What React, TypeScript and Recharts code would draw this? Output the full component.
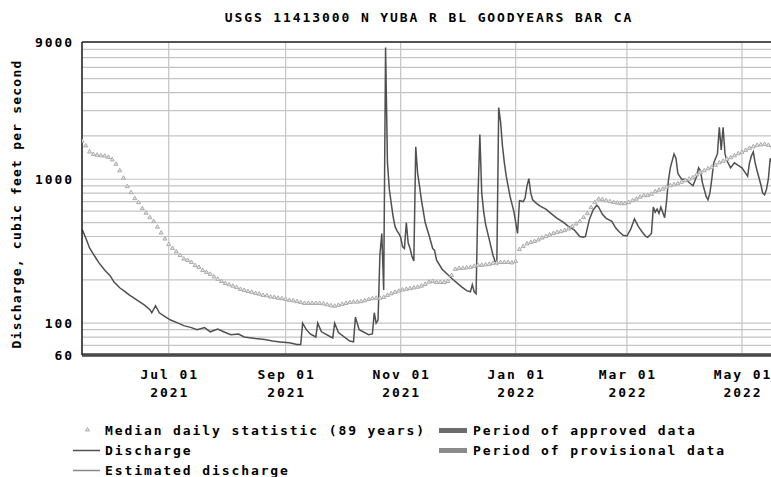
import {
  CartesianGrid,
  ComposedChart,
  Line,
  ReferenceLine,
  Scatter,
  XAxis,
  YAxis,
} from 'recharts'

// daily discharge, cfs
const dischargeDates = [
  '2021-05-16', '2021-05-18', '2021-05-20', '2021-05-23', '2021-05-25', '2021-05-28', '2021-05-31',
  '2021-06-02', '2021-06-05', '2021-06-08', '2021-06-10', '2021-06-14', '2021-06-18', '2021-06-21',
  '2021-06-22', '2021-06-24', '2021-06-26', '2021-06-29', '2021-07-02', '2021-07-06', '2021-07-09',
  '2021-07-13', '2021-07-16', '2021-07-20', '2021-07-23', '2021-07-27', '2021-07-31', '2021-08-03',
  '2021-08-07', '2021-08-10', '2021-08-16', '2021-08-21', '2021-08-25', '2021-08-29', '2021-09-03',
  '2021-09-07', '2021-09-09', '2021-09-10', '2021-09-12', '2021-09-14', '2021-09-17', '2021-09-18',
  '2021-09-20', '2021-09-25', '2021-09-26', '2021-09-27', '2021-09-29', '2021-10-05', '2021-10-07',
  '2021-10-08', '2021-10-10', '2021-10-15', '2021-10-17', '2021-10-18', '2021-10-19', '2021-10-20',
  '2021-10-21', '2021-10-22', '2021-10-23', '2021-10-24', '2021-10-25', '2021-10-26', '2021-10-27',
  '2021-10-28', '2021-10-29', '2021-10-30', '2021-10-31', '2021-11-01', '2021-11-02', '2021-11-03',
  '2021-11-04', '2021-11-05', '2021-11-06', '2021-11-07', '2021-11-08', '2021-11-09', '2021-11-10',
  '2021-11-11', '2021-11-12', '2021-11-13', '2021-11-14', '2021-11-16', '2021-11-18', '2021-11-19',
  '2021-11-20', '2021-11-23', '2021-11-28', '2021-12-03', '2021-12-06', '2021-12-08', '2021-12-09',
  '2021-12-10', '2021-12-11', '2021-12-12', '2021-12-13', '2021-12-14', '2021-12-15', '2021-12-16',
  '2021-12-18', '2021-12-20', '2021-12-21', '2021-12-22', '2021-12-23', '2021-12-24', '2021-12-25',
  '2021-12-26', '2021-12-27', '2021-12-29', '2021-12-31', '2022-01-02', '2022-01-03', '2022-01-05',
  '2022-01-06', '2022-01-07', '2022-01-08', '2022-01-09', '2022-01-10', '2022-01-12', '2022-01-14',
  '2022-01-17', '2022-01-20', '2022-01-23', '2022-01-26', '2022-01-29', '2022-02-01', '2022-02-02',
  '2022-02-04', '2022-02-06', '2022-02-07', '2022-02-09', '2022-02-11', '2022-02-13', '2022-02-14',
  '2022-02-16', '2022-02-18', '2022-02-21', '2022-02-23', '2022-02-25', '2022-02-27', '2022-03-01',
  '2022-03-03', '2022-03-05', '2022-03-07', '2022-03-09', '2022-03-11', '2022-03-12', '2022-03-14',
  '2022-03-15', '2022-03-16', '2022-03-17', '2022-03-18', '2022-03-19', '2022-03-21', '2022-03-22',
  '2022-03-23', '2022-03-24', '2022-03-26', '2022-03-27', '2022-03-28', '2022-03-30', '2022-04-01',
  '2022-04-03', '2022-04-05', '2022-04-07', '2022-04-08', '2022-04-09', '2022-04-10', '2022-04-12',
  '2022-04-13', '2022-04-14', '2022-04-15', '2022-04-16', '2022-04-18', '2022-04-19', '2022-04-20',
  '2022-04-21', '2022-04-22', '2022-04-23', '2022-04-25', '2022-04-27', '2022-04-29', '2022-05-01',
  '2022-05-03', '2022-05-04', '2022-05-05', '2022-05-06', '2022-05-07', '2022-05-08', '2022-05-09',
  '2022-05-11', '2022-05-12', '2022-05-13', '2022-05-14', '2022-05-15', '2022-05-16', '2022-05-17',
]
const dischargeCfs = [
  450, 390, 333, 288, 262, 234, 213,
  193, 176, 165, 157, 145, 134, 124,
  118, 132, 118, 111, 105, 100, 96,
  93, 90, 93, 87, 91, 86, 83,
  84, 80, 78, 77, 75, 74, 73,
  71, 71, 100, 90, 84, 80, 100,
  87, 80, 79, 100, 86, 75, 74,
  110, 90, 83, 84, 118, 100, 105,
  300, 420, 170, 8250, 1300, 850, 680,
  550, 470, 440, 420, 395, 340, 330,
  500, 360, 330, 290, 270, 1680, 1100,
  900, 720, 600, 500, 410, 330, 320,
  275, 237, 205, 180, 168, 165, 185,
  165, 160, 750, 2050, 800, 600, 490,
  380, 295, 270, 260, 3150, 2500, 1700,
  1300, 1050, 760, 600, 420, 710, 700,
  740, 900, 1010, 800, 720, 680, 650,
  620, 575, 535, 505, 470, 445, 430,
  400, 395, 400, 520, 610, 660, 640,
  570, 535, 510, 460, 430, 408, 403,
  450, 530, 470, 432, 400, 395, 420,
  640, 590, 620, 580, 640, 540, 700,
  980, 1200, 1500, 1400, 1100, 1000, 1000,
  950, 900, 1050, 1200, 1150, 950, 760,
  720, 800, 1000, 1300, 1500, 2300, 1600,
  2300, 1500, 1350, 1200, 1300, 1250, 1200,
  1100, 1050, 1300, 1450, 1550, 1300, 1150,
  920, 800, 780, 850, 1000, 1400, 1300,
]

// median daily statistic (89 years), one value every 2 days from medianStart
const medianStart = '2021-05-16'
const medianStepDays = 2
const medianCfs = [
  1850, 1720, 1560, 1500, 1480, 1467, 1460, 1430, 1375, 1280,
  1154, 1025, 895, 813, 739, 693, 630, 585, 545, 512,
  468, 426, 387, 354, 333, 315, 297, 281, 275, 266,
  253, 246, 234, 227, 220, 211, 203, 196, 190, 186,
  182, 178, 173, 170, 167, 165, 162, 160, 157, 156,
  153, 152, 150, 149, 147, 145, 144, 142, 140, 138,
  138, 138, 138, 138, 137, 135, 133, 132, 134, 136,
  138, 140, 141, 141, 142, 144, 147, 149, 150, 150,
  152, 157, 161, 165, 168, 171, 173, 175, 177, 179,
  182, 187, 194, 196, 193, 193, 193, 196, 216, 238,
  242, 242, 244, 246, 250, 254, 254, 256, 258, 262,
  264, 266, 266, 266, 264, 270, 327, 343, 358, 366,
  372, 381, 393, 403, 413, 423, 430, 436, 443, 454,
  472, 492, 512, 545, 581, 640, 693, 733, 727, 715,
  704, 693, 688, 682, 682, 693, 715, 733, 757, 775,
  775, 793, 826, 846, 859, 887, 909, 923, 938, 961,
  984, 1008, 1032, 1083, 1118, 1154, 1192, 1220, 1260, 1311,
  1343, 1387, 1421, 1467, 1514, 1550, 1601, 1653, 1694, 1734,
  1747, 1760, 1734, 1720,
]

const xStart = '2021-05-16'
const xEnd = '2022-05-18'

const xTickDates = ['2021-07-01', '2021-09-01', '2021-11-01', '2022-01-01', '2022-03-01', '2022-05-01']
const xTickTop = ['Jul 01', 'Sep 01', 'Nov 01', 'Jan 01', 'Mar 01', 'May 01']
const xTickBottom = ['2021', '2021', '2021', '2022', '2022', '2022']

const yTicks = [60, 70, 80, 90, 100, 200, 300, 400, 500, 600, 700, 800, 900,
  1000, 2000, 3000, 4000, 5000, 6000, 7000, 8000, 9000]
const yLabels = [60, 100, 1000, 9000]

const DAY = 86400000
const toTime = (s: string) => Date.parse(s + 'T00:00:00Z')

const dischargeData = dischargeDates.map((d, i) => ({ t: toTime(d), v: dischargeCfs[i] }))
const medianData = medianCfs.map((v, i) => ({ t: toTime(medianStart) + i * medianStepDays * DAY, v }))
const xTicks = xTickDates.map(toTime)

const font = {
  fontFamily: '"DejaVu Sans Mono", monospace',
  fontWeight: 'bold' as const,
  fontSize: 13,
  letterSpacing: 1.9,
  fill: '#000',
}

function XTick({ x, y, payload }: any) {
  const i = xTicks.indexOf(payload.value)
  return (
    <g>
      <text x={x + 1} y={y + 22} textAnchor="middle" {...font}>{xTickTop[i]}</text>
      <text x={x + 1} y={y + 40} textAnchor="middle" {...font}>{xTickBottom[i]}</text>
    </g>
  )
}

function YTick({ y, payload }: any) {
  if (!yLabels.includes(payload.value)) return <g />
  return (
    <text x={74} y={y + 4.5} textAnchor="end" {...font}>{payload.value}</text>
  )
}

function MedianMark({ cx, cy }: any) {
  return (
    <path
      d={`M${cx - 2} ${cy + 1.5} L${cx} ${cy - 2} L${cx + 2} ${cy + 1.5} Z`}
      fill="#e8e8e8"
      stroke="#ababab"
      strokeWidth={1}
    />
  )
}

export default function App() {
  return (
    <div style={{ position: 'fixed', left: 0, top: 0, width: 771, height: 477, overflow: 'hidden', background: '#fff' }}>
      <ComposedChart width={776} height={477} margin={{ top: 42, right: 2, bottom: 82, left: 0 }} style={{ maxWidth: 'none' }}>
        <CartesianGrid stroke="#c4c4c4" strokeWidth={1.2} />
        <XAxis
          dataKey="t"
          type="number"
          domain={[toTime(xStart), toTime(xEnd)]}
          allowDataOverflow
          ticks={xTicks}
          interval={0}
          tick={<XTick />}
          tickLine={false}
          tickSize={0}
          height={40}
          axisLine={{ stroke: '#222' }}
        />
        <YAxis
          dataKey="v"
          type="number"
          scale="log"
          domain={[60, 9000]}
          allowDataOverflow
          ticks={yTicks}
          interval={0}
          tick={<YTick />}
          tickLine={false}
          width={82}
          axisLine={{ stroke: '#222', strokeWidth: 1.5 }}
        />
        <ReferenceLine y={9000} stroke="#222" strokeWidth={1.5} />
        <ReferenceLine y={60} stroke="#707070" strokeWidth={4} />
        <Scatter
          data={medianData}
          dataKey="v"
          shape={<MedianMark />}
          isAnimationActive={false}
        />
        <Line
          data={dischargeData}
          dataKey="v"
          type="linear"
          stroke="#505050"
          strokeWidth={1.5}
          dot={false}
          isAnimationActive={false}
        />
      </ComposedChart>
      <svg width={771} height={477} style={{ position: 'absolute', left: 0, top: 0, pointerEvents: 'none' }}>
        <text x={429} y={22} textAnchor="middle" {...font}>USGS 11413000 N YUBA R BL GOODYEARS BAR CA</text>
        <text transform="translate(21,204) rotate(-90)" textAnchor="middle" {...font} letterSpacing={1.2}>
          Discharge, cubic feet per second
        </text>
        <path d="M85.5 431 L87.5 427.5 L89.5 431 Z" fill="#e8e8e8" stroke="#ababab" />
        <text x={105} y={435} {...font}>Median daily statistic (89 years)</text>
        <line x1={73} x2={100} y1={450.5} y2={450.5} stroke="#505050" strokeWidth={1.5} />
        <text x={105} y={455} {...font}>Discharge</text>
        <line x1={73} x2={100} y1={470.5} y2={470.5} stroke="#888" strokeWidth={1.5} />
        <text x={105} y={475} {...font}>Estimated discharge</text>
        <rect x={439} y={428} width={28} height={5} fill="#6c6c6c" />
        <text x={473} y={435} {...font}>Period of approved data</text>
        <rect x={439} y={448} width={28} height={5} fill="#8a8a8a" />
        <text x={473} y={455} {...font}>Period of provisional data</text>
      </svg>
    </div>
  )
}
